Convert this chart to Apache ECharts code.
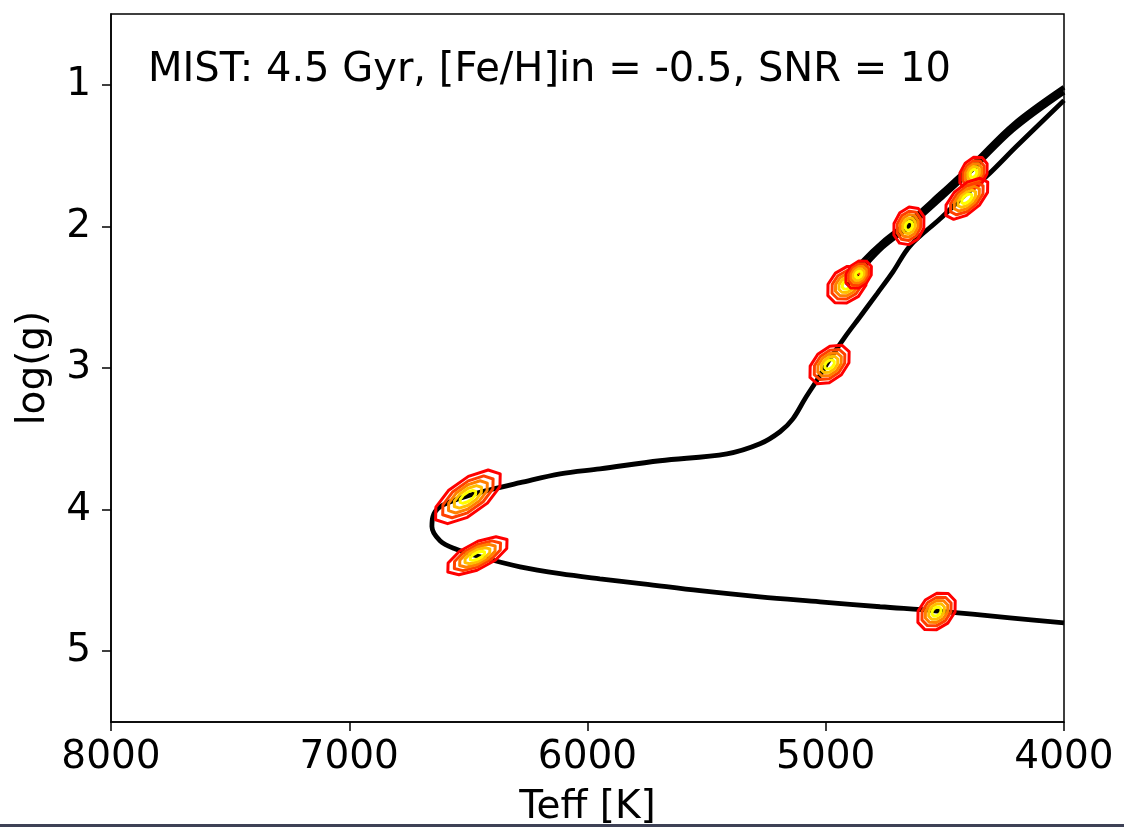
<!DOCTYPE html>
<html>
<head>
<meta charset="utf-8">
<script src="https://cdn.jsdelivr.net/npm/echarts@6/dist/echarts.min.js"></script>
<style>
  html, body { margin: 0; padding: 0; background: #ffffff; }
  #chart { width: 1124px; height: 827px; }
</style>
</head>
<body>
<div id="chart"></div>
<script>
// Isochrone: main sequence -> turn-off -> subgiant -> red giant branch
const isoTeff = [4000, 4227, 4541, 4772, 5024, 5276, 5528, 5767, 5948, 6115, 6283, 6451, 6556, 6619, 6653,
                 6649, 6619, 6535, 6409, 6283, 6115, 5948, 5696, 5415, 5276, 5192, 5138, 5087, 5033, 4982,
                 4919, 4856, 4785, 4718, 4646, 4520, 4415, 4323, 4197, 4000];
const isoLogg = [4.80, 4.764, 4.715, 4.686, 4.651, 4.616, 4.573, 4.524, 4.489, 4.453, 4.404, 4.333, 4.277, 4.22, 4.12,
                 4.05, 3.98, 3.92, 3.86, 3.81, 3.747, 3.712, 3.655, 3.606, 3.535, 3.45, 3.359, 3.217, 3.076, 2.935,
                 2.780, 2.638, 2.476, 2.321, 2.137, 1.946, 1.777, 1.643, 1.431, 1.11];

// Red clump / asymptotic giant branch tracks
const agbTeff = [4919, 4856, 4760, 4646, 4520, 4382, 4214, 4000];
const agbLogg = [2.391, 2.264, 2.109, 1.960, 1.770, 1.558, 1.282, 1.018];
const tipTeff = [4911, 4848, 4760, 4646, 4520, 4382, 4214, 4000];
const tipLogg = [2.420, 2.300, 2.145, 1.996, 1.808, 1.595, 1.318, 1.052];

// Posterior contours: centre, spread in Teff / log(g), and Teff-log(g) correlation
const postTeff = [6502, 6462, 4535, 4984, 4911, 4862, 4651, 4380, 4408];
const postLogg = [3.91, 4.326, 4.72, 2.975, 2.412, 2.340, 1.996, 1.625, 1.805];
const postSigT = [142, 130, 82, 86, 84, 56, 66, 60, 92];
const postSigG = [0.19, 0.135, 0.135, 0.14, 0.135, 0.1, 0.135, 0.118, 0.145];
const postCorr = [0.66, 0.66, 0.3, 0.4, 0.3, 0.3, 0.2, 0.3, 0.6];

// Contour levels (relative size) and their colours
const levelScale = [1.0, 0.78, 0.6, 0.42, 0.24];
const levelColor = ['#ff0000', '#ff4000', '#ff8000', '#ffbf00', '#ffff00'];

const yTicks = [1, 2, 3, 4, 5];
const titleText = 'MIST: 4.5 Gyr, [Fe/H]in = -0.5, SNR = 10';

const FONT = 'DejaVu Sans';
const NV = 10;

function zip(a, b) { return a.map((v, i) => [v, b[i]]); }

function renderContour(params, api) {
  const t0 = api.value(0), g0 = api.value(1);
  const sT = api.value(2), sG = api.value(3), r = api.value(4);
  const q = Math.sqrt(1 - r * r);
  const children = [];
  levelScale.forEach((k, j) => {
    const pts = [];
    for (let n = 0; n < NV; n++) {
      const a = 2 * Math.PI * n / NV + 0.3;
      pts.push(api.coord([
        t0 + k * sT * Math.cos(a),
        g0 + k * sG * (r * Math.cos(a) + q * Math.sin(a))
      ]));
    }
    children.push({
      type: 'polygon',
      shape: { points: pts },
      style: { fill: 'none', stroke: levelColor[j], lineWidth: 3, lineJoin: 'round' }
    });
  });
  return { type: 'group', children };
}

const chart = echarts.init(document.getElementById('chart'));

const lineStyle = { color: '#000', width: 4.8 };

chart.setOption({
  animation: false,
  backgroundColor: '#ffffff',
  grid: {
    left: 111, right: 60, top: 14, bottom: 105,
    show: true, borderColor: '#000', borderWidth: 1.5, backgroundColor: '#ffffff',
    outerBoundsMode: 'none'
  },
  xAxis: {
    type: 'value', min: 4000, max: 8000, interval: 1000, inverse: true,
    axisLine: { show: true, lineStyle: { color: '#000', width: 1.5 } },
    axisTick: { show: true, inside: false, length: 9, lineStyle: { color: '#000', width: 1.5 } },
    axisLabel: {
      fontSize: 39, fontFamily: FONT, color: '#000', margin: 16,
      showMinLabel: true, showMaxLabel: true,
      formatter: v => String(v)
    },
    splitLine: { show: false },
    name: 'Teff [K]', nameLocation: 'middle', nameGap: 66,
    nameTextStyle: { fontSize: 39, fontFamily: FONT, color: '#000' }
  },
  yAxis: {
    type: 'value', min: 0.5, max: 5.5, inverse: true,
    axisLine: { show: true, lineStyle: { color: '#000', width: 1.5 } },
    axisTick: { show: true, inside: false, length: 9, customValues: yTicks, lineStyle: { color: '#000', width: 1.5 } },
    axisLabel: { fontSize: 39, fontFamily: FONT, color: '#000', margin: 20, customValues: yTicks, formatter: v => String(v) },
    splitLine: { show: false },
    name: 'log(g)', nameLocation: 'middle', nameRotate: 90, nameGap: 58,
    nameTextStyle: { fontSize: 39, fontFamily: FONT, color: '#000' }
  },
  graphic: [
    {
      type: 'text', left: 148, top: 51, z: 100,
      style: { text: titleText, fontSize: 40, fontFamily: FONT, fill: '#000' }
    },
    {
      type: 'rect', left: 0, top: 824, z: 100,
      shape: { width: 1124, height: 3 },
      style: { fill: '#3e4156' }
    }
  ],
  series: [
    { type: 'line', data: zip(isoTeff, isoLogg), showSymbol: false, smooth: 0.35, lineStyle, z: 2 },
    { type: 'line', data: zip(agbTeff, agbLogg), showSymbol: false, smooth: 0.35, lineStyle, z: 2 },
    { type: 'line', data: zip(tipTeff, tipLogg), showSymbol: false, smooth: 0.35, lineStyle, z: 2 },
    {
      type: 'custom', z: 5,
      renderItem: renderContour,
      encode: { x: 0, y: 1 },
      data: postTeff.map((t, i) => [t, postLogg[i], postSigT[i], postSigG[i], postCorr[i]])
    }
  ]
});
</script>
</body>
</html>
